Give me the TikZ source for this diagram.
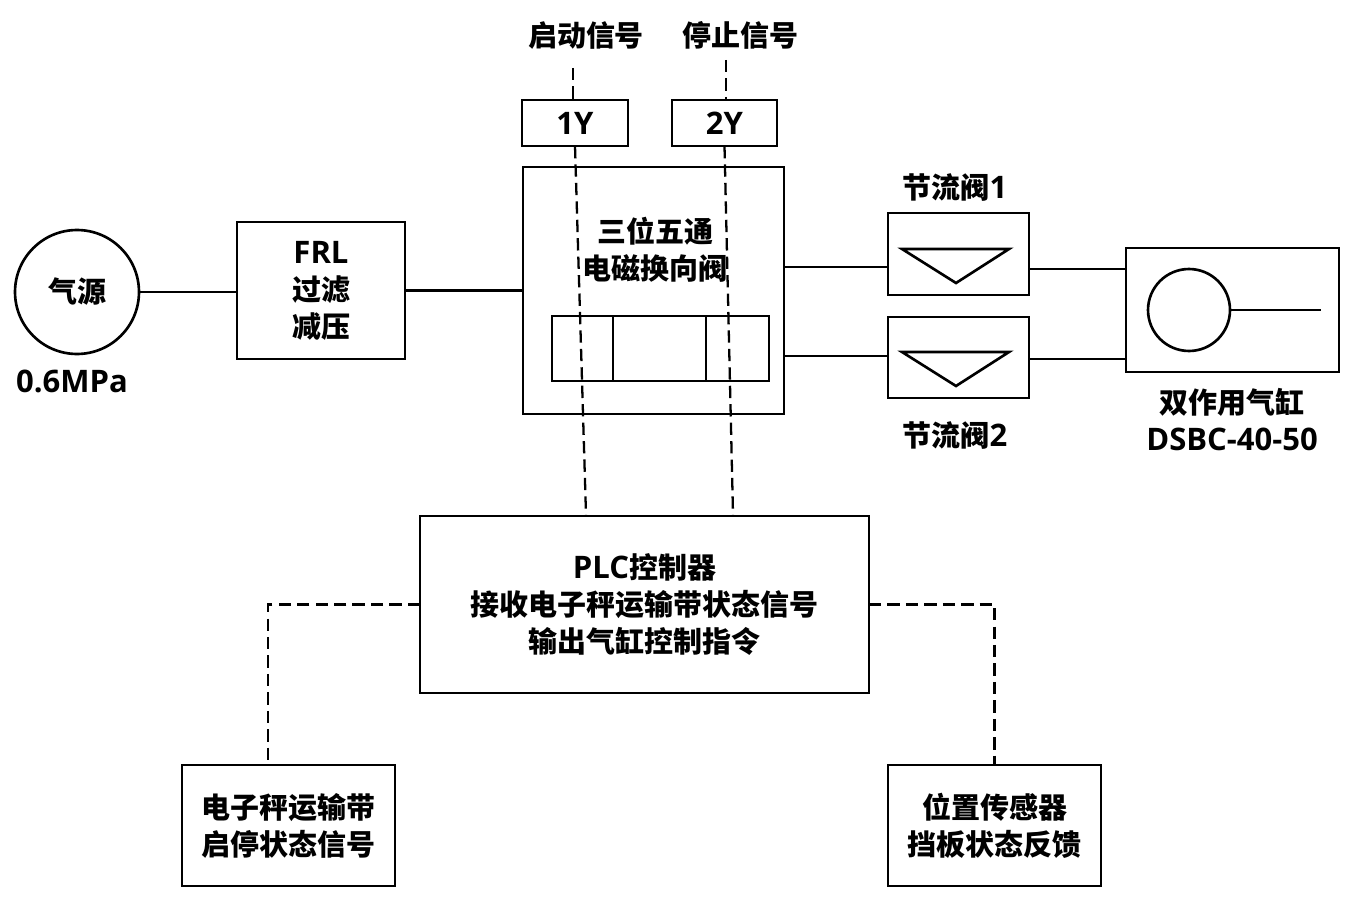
\documentclass[tikz,border=0pt]{standalone}
\usepackage{fontspec}
\setmainfont{Noto Sans CJK SC}
\newfontfamily\lat{Open Sans}[Scale=1.07]
\usetikzlibrary{positioning, calc}

\begin{document}
\begin{tikzpicture}[x=0.02cm, y=-0.02cm, line width=1.5pt,
    font=\fontsize{16.5}{21}\selectfont\bfseries,
    box/.style={draw, inner sep=0pt, outer sep=0pt, align=center},
    sig/.style={line width=1.3pt, dash pattern=on 7pt off 3.5pt}]
  \useasboundingbox (0,0) rectangle (1358,902);
  % supply line
  \node[box, circle, minimum size=2.48cm] (src) at (77,292) {气源};
  \node (srcp) at (72,381) {\lat 0.6MPa};
  \node[box, minimum width=3.36cm, minimum height=2.74cm] (frl) at (321,290.5) {{\lat FRL}\\过滤\\减压};
  \node[box, minimum width=5.22cm, minimum height=4.94cm] (valve) at (653.5,290.5) {};
  \node[align=center] (vtxt) at (655,250) {三位五通\\电磁换向阀};
  \node[box, minimum width=4.34cm, minimum height=1.3cm] (spool) at (660.5,348.5) {};
  \draw (613,316) -- (613,381);
  \draw (706,316) -- (706,381);
  \draw (src.east) -- (src.east -| frl.west);
  \draw (frl.east) -- (frl.east -| valve.west);
  % solenoids
  \node[box, minimum width=2.12cm, minimum height=0.92cm] (y1) at (575,123) {\lat 1Y};
  \node[box, minimum width=2.1cm, minimum height=0.92cm] (y2) at (724.5,123) {\lat 2Y};
  \node (start) at (586,35) {启动信号};
  \node (stop) at (740,35) {停止信号};
  \coordinate (s1) at (573,68);
  \coordinate (s2) at (726,60);
  \draw[sig] (s1) -- (s1 |- y1.north);
  \draw[sig] (s2) -- (s2 |- y2.north);
  % throttles and cylinder
  \node[box, minimum width=2.82cm, minimum height=1.64cm] (thr1) at (958.5,254) {};
  \node[box, minimum width=2.82cm, minimum height=1.62cm] (thr2) at (958.5,357.5) {};
  \draw (902,249) -- (1009,249) -- (956,283) -- cycle;
  \draw (902,352) -- (1009,352) -- (956,386) -- cycle;
  \node (thr1l) at (955,187) {节流阀{\lat 1}};
  \node (thr2l) at (955,435) {节流阀{\lat 2}};
  \node[box, minimum width=4.26cm, minimum height=2.48cm] (cyl) at (1232.5,310) {};
  \node[box, circle, minimum size=1.64cm] (pist) at (1189,310) {};
  \coordinate (rod) at (1321,310);
  \draw (pist.east) -- (rod);
  \node[align=center] (cyll) at (1232,420) {双作用气缸\\{\lat DSBC-40-50}};
  \coordinate (a1) at (0,267);
  \coordinate (a2) at (0,356);
  \coordinate (b1) at (0,269);
  \coordinate (b2) at (0,359);
  \draw (valve.east |- a1) -- (thr1.west |- a1);
  \draw (valve.east |- a2) -- (thr2.west |- a2);
  \draw (thr1.east |- b1) -- (cyl.west |- b1);
  \draw (thr2.east |- b2) -- (cyl.west |- b2);
  % control
  \node[box, minimum width=8.98cm, minimum height=3.54cm] (plc) at (644.5,604.5) {{\lat PLC}控制器\\接收电子秤运输带状态信号\\输出气缸控制指令};
  \node[box, minimum width=4.26cm, minimum height=2.42cm] (belt) at (288.5,825.5) {电子秤运输带\\启停状态信号};
  \node[box, minimum width=4.26cm, minimum height=2.42cm] (sensor) at (994.5,825.5) {位置传感器\\挡板状态反馈};
  \draw[sig] (y1.south) -- ($(plc.north west)+(166,0)$);
  \draw[sig] (y2.south) -- ($(plc.north west)+(313,0)$);
  \draw[sig] (plc.west) -| ($(belt.north west)+(86,0)$);
  \draw[sig] (plc.east) -| (sensor.north);
\end{tikzpicture}
\end{document}
